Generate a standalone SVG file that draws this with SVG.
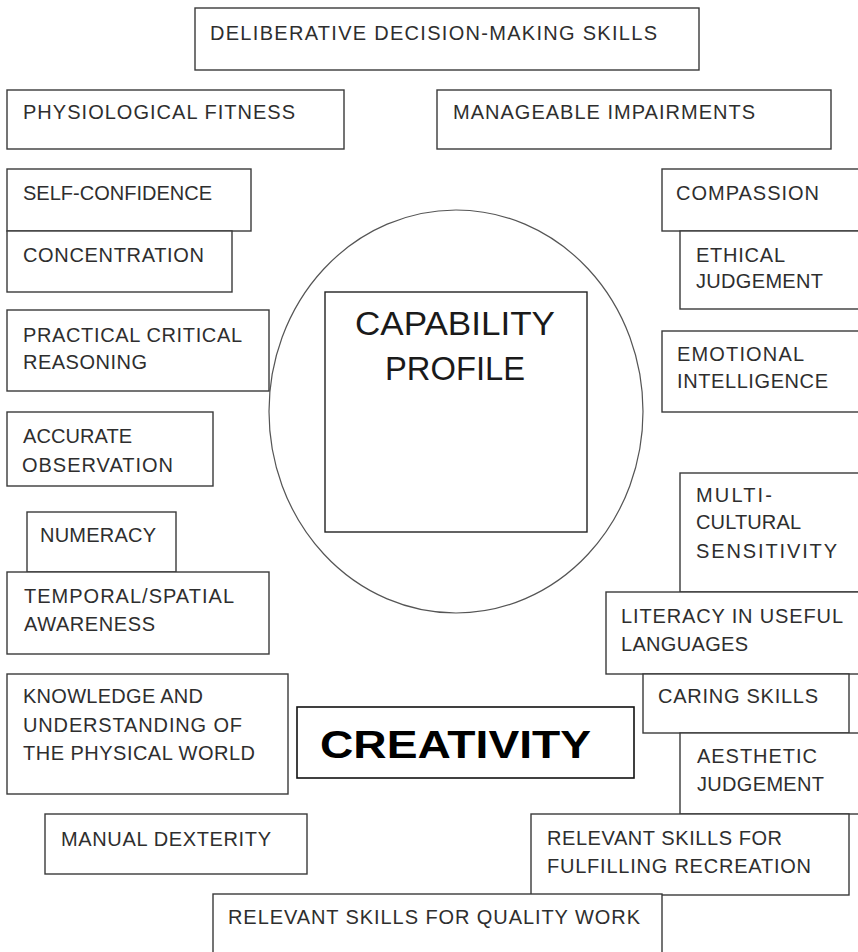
<svg xmlns="http://www.w3.org/2000/svg" width="858" height="952" viewBox="0 0 858 952">
<style>
.bg{fill:#ffffff}
.b{fill:#ffffff;stroke:#3a3a3a;stroke-width:1.4}
.ring{fill:none;stroke:#555555;stroke-width:1.2}
.t{font-family:"Liberation Sans",Arial,sans-serif;font-size:20px;fill:#2e2e2e}
.big{font-family:"Liberation Sans",Arial,sans-serif;font-size:34px;fill:#1a1a1a}
.cre{font-family:"Liberation Sans",Arial,sans-serif;font-size:38px;font-weight:bold;fill:#000000}
</style>
<rect class="bg" x="0" y="0" width="858" height="952"/>
<g id="connectors"/>
<g id="capability-ring"><ellipse class="ring" cx="456" cy="411.5" rx="187" ry="201.5"/></g>
<g id="capability-profile">
<rect class="b" x="325" y="292" width="262" height="240" style="stroke:#222"/>
<text class="big" x="355" y="335" textLength="200" lengthAdjust="spacingAndGlyphs">CAPABILITY</text>
<text class="big" x="385" y="380" textLength="140" lengthAdjust="spacingAndGlyphs">PROFILE</text>
</g>
<g id="deliberative">
<rect class="b" x="195" y="8" width="504" height="62"/>
<text class="t" x="210" y="40" textLength="447" lengthAdjust="spacing">DELIBERATIVE DECISION-MAKING SKILLS</text>
</g>
<g id="physiological">
<rect class="b" x="7" y="90" width="337" height="59"/>
<text class="t" x="23" y="119" textLength="272" lengthAdjust="spacing">PHYSIOLOGICAL FITNESS</text>
</g>
<g id="manageable">
<rect class="b" x="437" y="90" width="394" height="59"/>
<text class="t" x="453" y="119" textLength="302" lengthAdjust="spacing">MANAGEABLE IMPAIRMENTS</text>
</g>
<g id="self-confidence">
<rect class="b" x="7" y="169" width="244" height="62"/>
<text class="t" x="23" y="200" textLength="189" lengthAdjust="spacing">SELF-CONFIDENCE</text>
</g>
<g id="concentration">
<rect class="b" x="7" y="231" width="225" height="61"/>
<text class="t" x="23" y="262" textLength="181" lengthAdjust="spacing">CONCENTRATION</text>
</g>
<g id="compassion">
<rect class="b" x="662" y="169" width="210" height="62"/>
<text class="t" x="676" y="200" textLength="143" lengthAdjust="spacing">COMPASSION</text>
</g>
<g id="ethical">
<rect class="b" x="680" y="231" width="190" height="78"/>
<text class="t" x="696" y="262" textLength="89" lengthAdjust="spacing">ETHICAL</text>
<text class="t" x="696" y="288" textLength="127" lengthAdjust="spacing">JUDGEMENT</text>
</g>
<g id="emotional">
<rect class="b" x="662" y="331" width="210" height="81"/>
<text class="t" x="677" y="361" textLength="127" lengthAdjust="spacing">EMOTIONAL</text>
<text class="t" x="677" y="388" textLength="151" lengthAdjust="spacing">INTELLIGENCE</text>
</g>
<g id="practical">
<rect class="b" x="7" y="310" width="262" height="81"/>
<text class="t" x="23" y="342" textLength="219" lengthAdjust="spacing">PRACTICAL CRITICAL</text>
<text class="t" x="23" y="369" textLength="124" lengthAdjust="spacing">REASONING</text>
</g>
<g id="accurate">
<rect class="b" x="7" y="412" width="206" height="74"/>
<text class="t" x="23" y="443" textLength="109" lengthAdjust="spacing">ACCURATE</text>
<text class="t" x="22" y="472" textLength="151" lengthAdjust="spacing">OBSERVATION</text>
</g>
<g id="numeracy">
<rect class="b" x="27" y="512" width="149" height="60"/>
<text class="t" x="40" y="542" textLength="116" lengthAdjust="spacing">NUMERACY</text>
</g>
<g id="temporal">
<rect class="b" x="7" y="572" width="262" height="82"/>
<text class="t" x="24" y="603" textLength="210" lengthAdjust="spacing">TEMPORAL/SPATIAL</text>
<text class="t" x="24" y="631" textLength="131" lengthAdjust="spacing">AWARENESS</text>
</g>
<g id="knowledge">
<rect class="b" x="7" y="674" width="281" height="120"/>
<text class="t" x="23" y="703" textLength="180" lengthAdjust="spacing">KNOWLEDGE AND</text>
<text class="t" x="23" y="732" textLength="219" lengthAdjust="spacing">UNDERSTANDING OF</text>
<text class="t" x="23" y="760" textLength="232" lengthAdjust="spacing">THE PHYSICAL WORLD</text>
</g>
<g id="creativity">
<rect class="b" x="297" y="707" width="337" height="71" style="stroke:#111;stroke-width:1.6"/>
<text class="cre" x="320" y="758" textLength="271" lengthAdjust="spacingAndGlyphs">CREATIVITY</text>
</g>
<g id="manual">
<rect class="b" x="45" y="814" width="262" height="60"/>
<text class="t" x="61" y="846" textLength="210" lengthAdjust="spacing">MANUAL DEXTERITY</text>
</g>
<g id="multicultural">
<rect class="b" x="680" y="473" width="190" height="119"/>
<text class="t" x="696" y="502" textLength="76" lengthAdjust="spacing">MULTI-</text>
<text class="t" x="696" y="529" textLength="105" lengthAdjust="spacing">CULTURAL</text>
<text class="t" x="696" y="558" textLength="141" lengthAdjust="spacing">SENSITIVITY</text>
</g>
<g id="literacy">
<rect class="b" x="606" y="592" width="264" height="82"/>
<text class="t" x="621" y="623" textLength="222" lengthAdjust="spacing">LITERACY IN USEFUL</text>
<text class="t" x="621" y="651" textLength="127" lengthAdjust="spacing">LANGUAGES</text>
</g>
<g id="caring">
<rect class="b" x="643" y="674" width="206" height="59"/>
<text class="t" x="658" y="703" textLength="160" lengthAdjust="spacing">CARING SKILLS</text>
</g>
<g id="aesthetic">
<rect class="b" x="680" y="733" width="190" height="81"/>
<text class="t" x="697" y="763" textLength="120" lengthAdjust="spacing">AESTHETIC</text>
<text class="t" x="697" y="791" textLength="127" lengthAdjust="spacing">JUDGEMENT</text>
</g>
<g id="recreation">
<rect class="b" x="531" y="814" width="318" height="81"/>
<text class="t" x="547" y="845" textLength="235" lengthAdjust="spacing">RELEVANT SKILLS FOR</text>
<text class="t" x="547" y="873" textLength="264" lengthAdjust="spacing">FULFILLING RECREATION</text>
</g>
<g id="quality-work">
<rect class="b" x="213" y="894" width="449" height="70"/>
<text class="t" x="228" y="924" textLength="412" lengthAdjust="spacing">RELEVANT SKILLS FOR QUALITY WORK</text>
</g>
</svg>
